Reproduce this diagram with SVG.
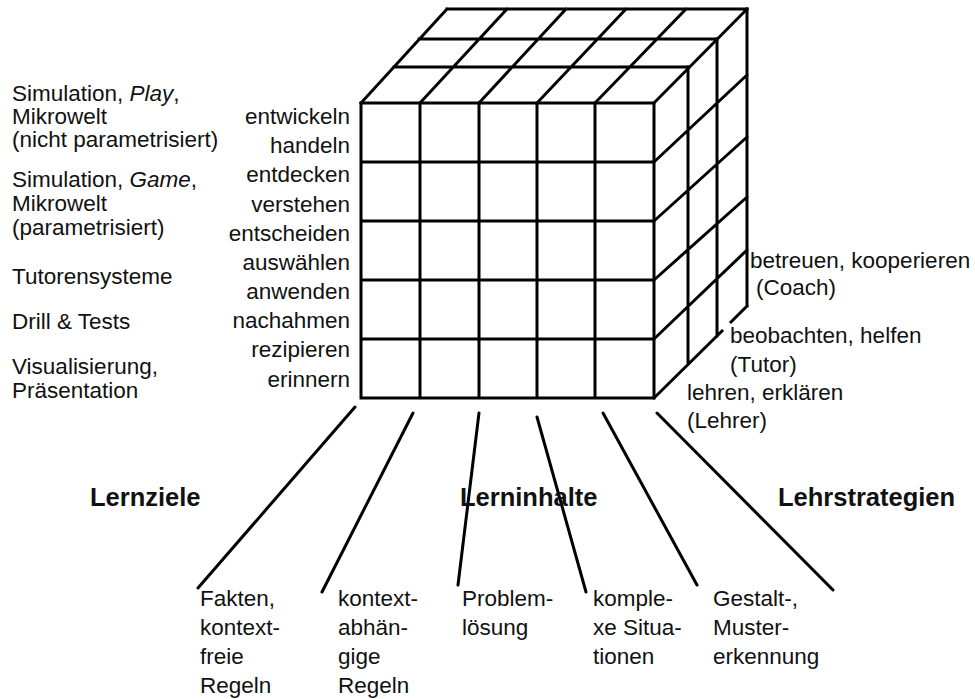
<svg xmlns="http://www.w3.org/2000/svg" width="975" height="699" viewBox="0 0 975 699">
<style>
.c{stroke:#000;stroke-width:3;fill:none;stroke-linecap:square}
.k{stroke:#000;stroke-width:3;fill:none;stroke-linecap:round}
text{font-family:"Liberation Sans",Arial,sans-serif;font-size:22.5px;fill:#111}
.r{text-anchor:end}
.b{font-weight:bold;font-size:25.5px}
</style>
<rect width="975" height="699" fill="#fff"/>
<g id="cube">
<path class="c" d="M361,103V398M420,103V398M479,103V398M537,103V398M595,103V398M654,103V398M361,103H654M361,162H654M361,221H654M361,280H654M361,339H654M361,398H654"/>
<path class="c" d="M447,9H747M419,39H717M394,67H688M361,103L447,9M420,103L507,9M479,103L566,9M537,103L626,9M595,103L686,9M654,103L747,9"/>
<path class="c" d="M688,67V364M717,39V336M747,9V306M654,162L747,75M654,221L747,137M654,280L747,197M654,339L747,250M654,398L722,331M731,322L747,306"/>
</g>
<g id="connectors">
<path class="k" d="M355,407L198,588M413,413L322,592M479,413L458,585M537,417L586,592M603,413L697,585M657,413L833,590"/>
</g>
<g id="medien">
<text x="12" y="101">Simulation, <tspan font-style="italic">Play</tspan>,</text>
<text x="12" y="124">Mikrowelt</text>
<text x="12" y="147">(nicht parametrisiert)</text>
<text x="12" y="187">Simulation, <tspan font-style="italic">Game</tspan>,</text>
<text x="12" y="211">Mikrowelt</text>
<text x="12" y="235">(parametrisiert)</text>
<text x="12" y="284">Tutorensysteme</text>
<text x="12" y="329">Drill &amp; Tests</text>
<text x="12" y="374">Visualisierung,</text>
<text x="12" y="398">Präsentation</text>
</g>
<g id="lernziele-verben">
<text class="r" x="350" y="124">entwickeln</text>
<text class="r" x="350" y="153">handeln</text>
<text class="r" x="350" y="182">entdecken</text>
<text class="r" x="350" y="212">verstehen</text>
<text class="r" x="350" y="241">entscheiden</text>
<text class="r" x="350" y="270">auswählen</text>
<text class="r" x="350" y="299">anwenden</text>
<text class="r" x="350" y="328">nachahmen</text>
<text class="r" x="350" y="357">rezipieren</text>
<text class="r" x="350" y="387">erinnern</text>
</g>
<g id="lehrstrategien-rollen">
<text x="750" y="268">betreuen, kooperieren</text>
<text x="756" y="295">(Coach)</text>
<text x="730" y="343">beobachten, helfen</text>
<text x="730" y="372">(Tutor)</text>
<text x="687" y="400">lehren, erklären</text>
<text x="687" y="428">(Lehrer)</text>
</g>
<g id="achsen">
<text class="b" x="90" y="506">Lernziele</text>
<text class="b" x="460" y="506">Lerninhalte</text>
<text class="b" x="778" y="506">Lehrstrategien</text>
</g>
<g id="inhalte">
<text x="200" y="606">Fakten,</text>
<text x="200" y="635">kontext-</text>
<text x="200" y="664">freie</text>
<text x="200" y="693">Regeln</text>
<text x="338" y="606">kontext-</text>
<text x="338" y="635">abhän-</text>
<text x="338" y="664">gige</text>
<text x="338" y="693">Regeln</text>
<text x="462" y="606">Problem-</text>
<text x="462" y="635">lösung</text>
<text x="593" y="606">komple-</text>
<text x="593" y="635">xe Situa-</text>
<text x="593" y="664">tionen</text>
<text x="713" y="606">Gestalt-,</text>
<text x="713" y="635">Muster-</text>
<text x="713" y="664">erkennung</text>
</g>
</svg>
